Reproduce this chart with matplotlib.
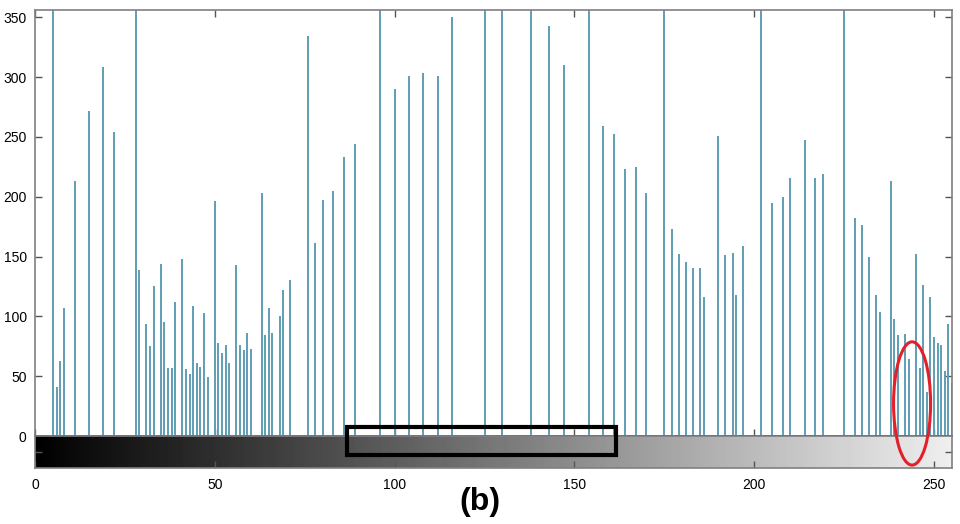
import numpy as np
import matplotlib
matplotlib.use("Agg")
import matplotlib.pyplot as plt
from matplotlib.patches import Rectangle, Ellipse

plt.rcParams['font.family'] = ['Liberation Sans', 'DejaVu Sans']

# gray levels that have pixels, and their counts (tall ones go off the top)
levels = [5, 6, 7, 8, 11, 15, 19, 22,
          28, 29, 31, 32, 33, 35, 36, 37, 38, 39, 41, 42, 43, 44, 45, 46, 47, 48,
          50, 51, 52, 53, 54, 56, 57, 58, 59, 60, 63, 64, 65, 66, 68, 69, 71,
          76, 78, 80, 83, 86, 89, 96, 100, 104, 108, 112, 116,
          125, 130, 138, 143, 147, 154, 158, 161, 164, 167, 170,
          175, 177, 179, 181, 183, 185, 186, 190, 192, 194, 195, 197,
          202, 205, 208, 210, 214, 217, 219, 225, 228, 230, 232, 234, 235,
          238, 239, 240, 242, 243, 245, 246, 247, 248, 249, 250, 251, 252, 253, 254, 255]
counts = [600, 41, 63, 107, 213, 272, 308, 254,
          600, 139, 94, 75, 125, 144, 95, 57, 57, 112, 148, 56, 52, 109, 61, 58, 103, 49,
          196, 78, 69, 76, 61, 143, 76, 72, 86, 73, 203, 84, 107, 86, 100, 122, 130,
          334, 161, 197, 205, 233, 244, 600, 290, 301, 303, 301, 350,
          600, 600, 600, 343, 310, 600, 259, 252, 223, 225, 203,
          600, 173, 152, 145, 140, 140, 116, 251, 151, 153, 118, 159,
          600, 195, 200, 216, 247, 216, 219, 600, 182, 176, 150, 118, 104,
          213, 98, 84, 85, 64, 152, 57, 126, 37, 116, 83, 78, 76, 54, 94, 44]

xticks = [0, 50, 100, 150, 200, 250]
yticks = [0, 50, 100, 150, 200, 250, 300, 350]

stem_color = '#5f9eb3'
spine_color = '#808080'

fig = plt.figure(figsize=(9.6, 5.24), dpi=100)
ax = fig.add_axes([35/960, 88/524, 917/960, 426/524])
cax = fig.add_axes([35/960, 56/524, 917/960, 32/524])

ax.vlines(levels, 0, counts, colors=stem_color, lw=1.4)
ax.set_xlim(0, 255)
ax.set_ylim(0, 356)
ax.set_yticks(yticks)
ax.set_xticks(xticks)
ax.tick_params(direction='in', length=5, width=1, color='#555555',
               top=True, right=True, labelbottom=False, labelsize=10, pad=6)
for s in ax.spines.values():
    s.set_color(spine_color)
    s.set_linewidth(1.2)
ax.spines['bottom'].set_color('#222222')

# gray ramp under the histogram
ramp = np.linspace(0, 1, 256).reshape(1, -1)
cax.imshow(ramp, cmap='gray', aspect='auto', extent=[0, 255, 0, 1], vmin=0, vmax=1.07)
cax.set_xlim(0, 255)
cax.set_ylim(0, 1)
cax.set_xticks(xticks)
cax.set_yticks([0.5])
cax.set_yticklabels([])
cax.tick_params(direction='in', length=5, width=1, color='#555555',
                right=True, labelsize=10, pad=7)
for s in cax.spines.values():
    s.set_color(spine_color)
    s.set_linewidth(1.2)

# annotations drawn over both axes
rect = Rectangle((86.8, -15.9), 161.6 - 86.8, 7.5 + 15.9, transform=ax.transData,
                 fill=False, edgecolor='black', lw=3, zorder=5)
fig.add_artist(rect)
ell = Ellipse((243.9, 27.2), 10.3, 103, transform=ax.transData,
              fill=False, edgecolor='#e3202a', lw=2.2, zorder=5)
fig.add_artist(ell)

fig.text(0.5, 0.042, '(b)', ha='center', va='center', fontsize=23, fontweight='bold')

fig.savefig('out.png', dpi=100)
